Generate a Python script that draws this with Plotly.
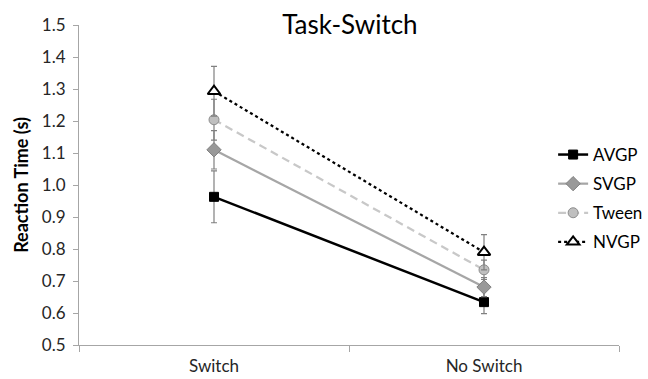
import plotly.graph_objects as go

categories = ["Switch", "No Switch"]
series_names = ["AVGP", "SVGP", "Tween", "NVGP"]
avgp = [0.963, 0.634]
svgp = [1.110, 0.681]
tween = [1.204, 0.735]
nvgp = [1.293, 0.790]
avgp_err = [0.081, 0.036]
svgp_err = [0.060, 0.030]
tween_err = [0.064, 0.030]
nvgp_err = [0.078, 0.055]
y_ticks = [0.5, 0.6, 0.7, 0.8, 0.9, 1.0, 1.1, 1.2, 1.3, 1.4, 1.5]
y_tick_labels = ["0.5", "0.6", "0.7", "0.8", "0.9", "1.0", "1.1", "1.2", "1.3", "1.4", "1.5"]

FONT = "Lato"

styles = [
    dict(line=dict(color="black", width=2.5, dash="solid"),
         marker=dict(symbol="square", size=9, color="black", line=dict(color="black", width=1))),
    dict(line=dict(color="#a6a6a6", width=2.25, dash="solid"),
         marker=dict(symbol="diamond", size=11, color="#999999", line=dict(color="#7f7f7f", width=1))),
    dict(line=dict(color="#c8c8c8", width=2.25, dash="8px,5px"),
         marker=dict(symbol="circle", size=10, color="#bfbfbf", line=dict(color="#8c8c8c", width=1))),
    dict(line=dict(color="black", width=2.25, dash="dot"),
         marker=dict(symbol="triangle-up", size=11, color="white", line=dict(color="black", width=2))),
]

fig = go.Figure()
for name, vals, errs, st in zip(series_names, [avgp, svgp, tween, nvgp],
                                [avgp_err, svgp_err, tween_err, nvgp_err], styles):
    fig.add_trace(go.Scatter(
        x=categories, y=vals, name=name, mode="lines+markers",
        line=st["line"], marker=st["marker"], legendgroup=name,
        error_y=dict(type="data", array=errs, visible=True, color="#808080",
                     thickness=1.2, width=3),
    ))

fig.update_layout(
    width=648, height=379,
    margin=dict(l=79, r=29, t=25, b=34, autoexpand=False),
    paper_bgcolor="white", plot_bgcolor="white",
    font=dict(family=FONT, color="#262626"),
    title=dict(text="Task-Switch", x=0.54, xanchor="center", y=0.935, yanchor="middle",
               font=dict(family=FONT, size=26, color="black")),
    legend=dict(x=0.878, y=0.65, xanchor="left", yanchor="top",
                bgcolor="rgba(0,0,0,0)", font=dict(family=FONT, size=17, color="black"),
                tracegroupgap=4, itemwidth=30),
    showlegend=True,
)
fig.update_xaxes(
    type="category", range=[-0.5, 1.5], showline=True, linecolor="#a6a6a6", linewidth=1,
    ticks="outside", tickson="boundaries", ticklen=6, tickcolor="#a6a6a6",
    showgrid=False, zeroline=False, tickfont=dict(family=FONT, size=17, color="#262626"),
    ticklabelstandoff=6, automargin=False,
)
fig.update_yaxes(
    range=[0.5, 1.5], tickvals=y_ticks, ticktext=y_tick_labels,
    showline=True, linecolor="#a6a6a6", linewidth=1,
    ticks="outside", ticklen=5, tickcolor="#a6a6a6", showgrid=False, zeroline=False,
    tickfont=dict(family=FONT, size=17, color="#262626"), ticklabelstandoff=4,
    automargin=False,
    title=dict(text="<b>Reaction Time (s)</b>", font=dict(family=FONT, size=18, color="black"),
               standoff=8),
)

fig.write_html("out.html")
